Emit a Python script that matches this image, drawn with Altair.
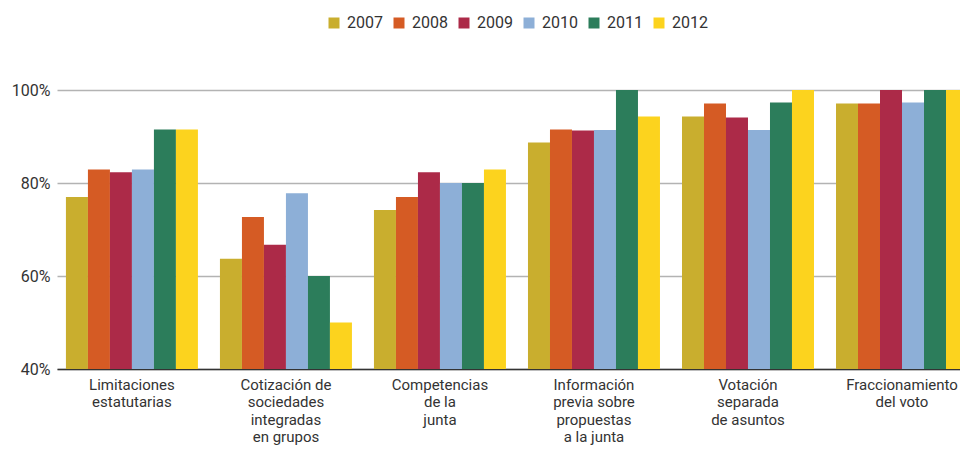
import altair as alt
import pandas as pd

categories = [
    "Limitaciones|estatutarias",
    "Cotización de|sociedades|integradas|en grupos",
    "Competencias|de la|junta",
    "Información|previa sobre|propuestas|a la junta",
    "Votación|separada|de asuntos",
    "Fraccionamiento|del voto",
]
years = ["2007", "2008", "2009", "2010", "2011", "2012"]
colors = ["#C9AE2E", "#D55B24", "#AC2A48", "#8DAFD7", "#2C7D5B", "#FCD31E"]

v2007 = [77.0, 63.7, 74.2, 88.7, 94.3, 97.1]
v2008 = [82.9, 72.7, 77.0, 91.5, 97.1, 97.1]
v2009 = [82.3, 66.7, 82.3, 91.3, 94.1, 100.0]
v2010 = [82.9, 77.8, 80.0, 91.4, 91.4, 97.3]
v2011 = [91.5, 60.0, 80.0, 100.0, 97.3, 100.0]
v2012 = [91.5, 50.0, 82.9, 94.3, 100.0, 100.0]
series = [v2007, v2008, v2009, v2010, v2011, v2012]

y_ticks = [40, 60, 80, 100]

rows = []
for yr, vals in zip(years, series):
    for cat, v in zip(categories, vals):
        rows.append({"cat": cat, "year": yr, "value": v})
df = pd.DataFrame(rows)

FONT = "Roboto, sans-serif"

chart = (
    alt.Chart(df)
    .mark_bar()
    .encode(
        x=alt.X(
            "cat:N",
            sort=categories,
            scale=alt.Scale(range=[0, 911], paddingInner=0.143, paddingOuter=0.029, align=1),
            axis=alt.Axis(
                title=None,
                labelAngle=0,
                labelExpr="split(datum.value, '|')",
                labelFontSize=15,
                labelFont=FONT,
                labelColor="#333333",
                labelLineHeight=17.5,
                labelPadding=8,
                labelBaseline="top",
                ticks=False,
                domain=True,
                domainColor="#333333",
                domainWidth=1.5,
                grid=False,
            ),
        ),
        xOffset=alt.XOffset(
            "year:N", sort=years, scale=alt.Scale(paddingInner=0, paddingOuter=0)
        ),
        y=alt.Y(
            "value:Q",
            scale=alt.Scale(domain=[40, 100], zero=False, nice=False),
            axis=alt.Axis(
                title=None,
                values=y_ticks,
                labelExpr="datum.value + '%'",
                labelFontSize=16,
                labelFont=FONT,
                labelColor="#333333",
                labelPadding=7,
                ticks=False,
                domain=False,
                grid=True,
                gridColor="#b3b3b3",
                gridWidth=1.5,
            ),
        ),
        y2=alt.datum(40),
        color=alt.Color(
            "year:N",
            sort=years,
            scale=alt.Scale(domain=years, range=colors),
            legend=alt.Legend(
                title=None,
                orient="none",
                direction="horizontal",
                legendX=269,
                legendY=-75,
                symbolType="square",
                symbolSize=121,
                symbolStrokeWidth=0,
                symbolOpacity=1,
                labelFontSize=16,
                labelFont=FONT,
                labelColor="#333333",
                labelOffset=5,
                columnPadding=8,
                padding=0,
            ),
        ),
    )
    .properties(
        width=903,
        height=279,
        autosize=alt.AutoSizeParams(type="none"),
        padding={"left": 49, "top": 82, "right": 0, "bottom": 76},
        background="white",
    )
    .configure_view(stroke=None)
)

chart.save("out.html", embed_options={"renderer": "svg", "actions": False})
